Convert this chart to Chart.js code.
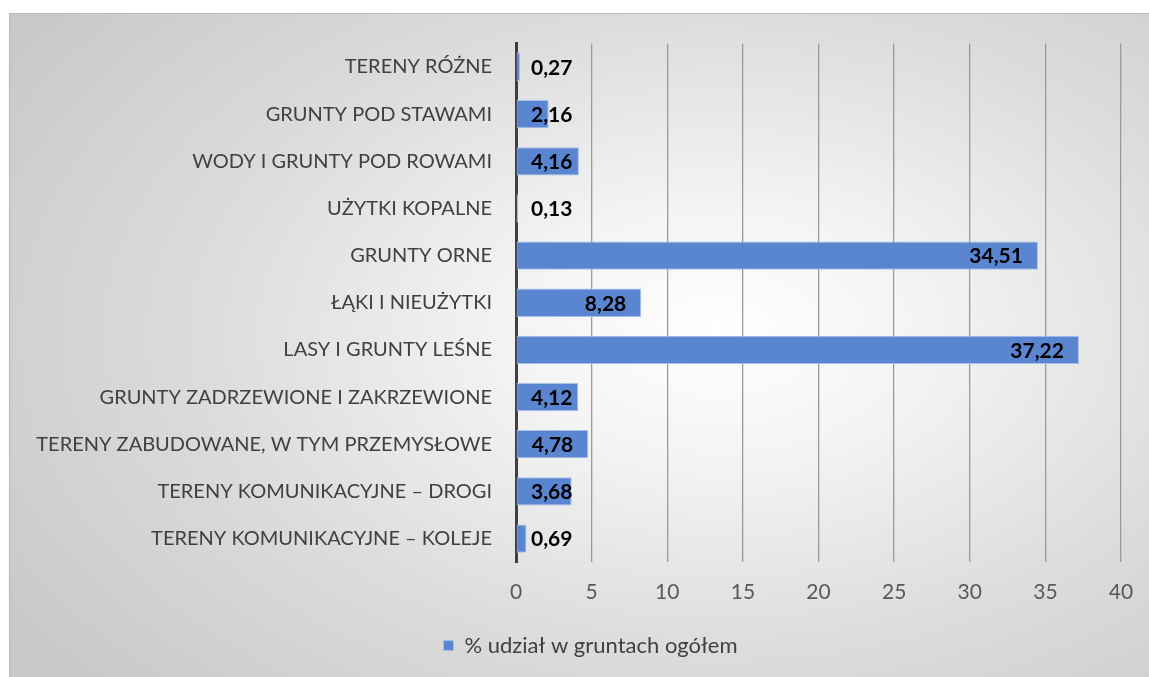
<!DOCTYPE html>
<html>
<head>
<meta charset="utf-8">
<script src="https://cdn.jsdelivr.net/npm/chart.js@4.4.0/dist/chart.umd.min.js"></script>
<style>
  html, body { margin: 0; padding: 0; background: #ffffff; }
  body { width: 1149px; height: 677px; position: relative; overflow: hidden; }
  #box {
    position: absolute; left: 9px; top: 13px; width: 1140px; height: 664px;
    border-top: 1px solid #bdbdbd; border-left: 1px solid #b5b5b5;
    background: radial-gradient(ellipse 75% 80% at 62% 48%, #ffffff 0%, #f3f3f3 25%, #dcdcdc 60%, #c8c8c8 100%);
  }
  #c { position: absolute; left: 0; top: 0; }
</style>
</head>
<body>
<div id="box"><canvas id="c" width="1139" height="663"></canvas></div>
<script>
const categories = [
  "TERENY RÓŻNE",
  "GRUNTY POD STAWAMI",
  "WODY I GRUNTY POD ROWAMI",
  "UŻYTKI KOPALNE",
  "GRUNTY ORNE",
  "ŁĄKI I NIEUŻYTKI",
  "LASY I GRUNTY LEŚNE",
  "GRUNTY ZADRZEWIONE I ZAKRZEWIONE",
  "TERENY ZABUDOWANE, W TYM PRZEMYSŁOWE",
  "TERENY KOMUNIKACYJNE – DROGI",
  "TERENY KOMUNIKACYJNE – KOLEJE"
];
const seriesName = "% udział w gruntach ogółem";
const values = [0.27, 2.16, 4.16, 0.13, 34.51, 8.28, 37.22, 4.12, 4.78, 3.68, 0.69];
const xTicks = [0, 5, 10, 15, 20, 25, 30, 35, 40];

const FONT = "Lato";

const labelPlugin = {
  id: 'insideEndLabels',
  afterLayout(chart) {
    if (chart.legend) {
      chart.legend.left += 25;
      chart.legend.right += 25;
    }
  },
  afterDatasetsDraw(chart) {
    const ctx = chart.ctx;
    const meta = chart.getDatasetMeta(0);
    const xScale = chart.scales.x;
    const x0 = xScale.getPixelForValue(0);
    ctx.save();
    ctx.font = "bold 21px " + FONT;
    ctx.fillStyle = "#000000";
    ctx.textBaseline = "middle";
    ctx.textAlign = "left";
    meta.data.forEach((bar, i) => {
      const txt = values[i].toFixed(2).replace('.', ',');
      const w = ctx.measureText(txt).width;
      const x = Math.max(x0 + 15, bar.x - 15 - w);
      ctx.fillText(txt, x, bar.y + 1);
    });
    ctx.restore();
  }
};

new Chart(document.getElementById('c'), {
  type: 'bar',
  data: {
    labels: categories,
    datasets: [{
      label: seriesName,
      data: values,
      backgroundColor: '#5a85d1',
      borderColor: '#a8bfe8',
      borderWidth: 1,
      borderSkipped: false,
      barPercentage: 0.6,
      categoryPercentage: 1.0
    }]
  },
  options: {
    indexAxis: 'y',
    responsive: false,
    animation: false,
    devicePixelRatio: 1,
    layout: { padding: { top: 29.4, left: 0, right: 28, bottom: 10.4 } },
    scales: {
      x: {
        min: 0, max: 40,
        afterBuildTicks(scale) { scale.ticks = xTicks.map(v => ({ value: v })); },
        afterFit(scale) { scale.height = 62.5; scale.paddingLeft = 0; scale.paddingRight = 0; },
        grid: { color: '#9a9a9a', lineWidth: 1.3, drawTicks: false },
        border: { display: false },
        ticks: { padding: 18, color: '#595959', font: { family: FONT, size: 21 } }
      },
      y: {
        afterFit(scale) { scale.width = 506; scale.paddingTop = 0; scale.paddingBottom = 0; },
        grid: { display: false, drawTicks: false },
        border: { display: true, color: '#404040', width: 3 },
        ticks: { padding: 24, color: '#404040', font: { family: FONT, size: 20 } }
      }
    },
    plugins: {
      legend: {
        position: 'bottom',
        labels: {
          boxWidth: 10, boxHeight: 10, padding: 10,
          color: '#404040',
          font: { family: FONT, size: 22 }
        }
      },
      tooltip: { enabled: false }
    }
  },
  plugins: [labelPlugin]
});
</script>
</body>
</html>
